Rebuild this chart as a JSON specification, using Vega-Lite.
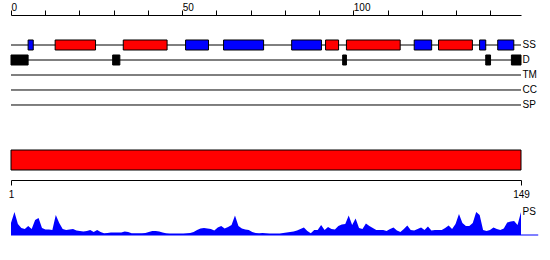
{
  "$schema": "https://vega.github.io/schema/vega-lite/v6.json",
  "padding": {"left": 8, "top": 2, "right": 0, "bottom": 0},
  "config": {
    "view": {"stroke": null},
    "axis": {"grid": false, "domainColor": "black", "tickColor": "black", "labelColor": "black", "labelFont": "Liberation Sans", "labelFontSize": 10, "titleFont": "Liberation Sans", "titleFontSize": 10, "titleFontWeight": "normal", "titleColor": "black"}
  },
  "datasets": {
    "tracks": [{"track": "SS"}, {"track": "D"}, {"track": "TM"}, {"track": "CC"}, {"track": "SP"}],
    "features": [
      {"track": "SS", "type": "strand", "start": 5.0, "end": 6.5},
      {"track": "SS", "type": "helix", "start": 12.9, "end": 24.7},
      {"track": "SS", "type": "helix", "start": 32.8, "end": 45.6},
      {"track": "SS", "type": "strand", "start": 51.0, "end": 57.7},
      {"track": "SS", "type": "strand", "start": 62.1, "end": 73.8},
      {"track": "SS", "type": "strand", "start": 82.0, "end": 90.7},
      {"track": "SS", "type": "helix", "start": 91.9, "end": 95.7},
      {"track": "SS", "type": "helix", "start": 98.0, "end": 113.7},
      {"track": "SS", "type": "strand", "start": 117.8, "end": 122.9},
      {"track": "SS", "type": "helix", "start": 124.9, "end": 134.8},
      {"track": "SS", "type": "strand", "start": 136.9, "end": 138.7},
      {"track": "SS", "type": "strand", "start": 142.2, "end": 146.9},
      {"track": "D", "type": "disorder", "start": 0, "end": 5},
      {"track": "D", "type": "disorder", "start": 29.7, "end": 31.8},
      {"track": "D", "type": "disorder", "start": 96.9, "end": 98},
      {"track": "D", "type": "disorder", "start": 138.7, "end": 140.1},
      {"track": "D", "type": "disorder", "start": 146.2, "end": 149}
    ],
    "protein": [{"start": 1, "end": 149}],
    "ps": [
      {"res": 1, "ps": 0.48}, {"res": 2, "ps": 0.92}, {"res": 3, "ps": 0.44}, {"res": 4, "ps": 0.28}, {"res": 5, "ps": 0.24},
      {"res": 6, "ps": 0.36}, {"res": 7, "ps": 0.24}, {"res": 8, "ps": 0.60}, {"res": 9, "ps": 0.68}, {"res": 10, "ps": 0.28},
      {"res": 11, "ps": 0.22}, {"res": 12, "ps": 0.22}, {"res": 13, "ps": 0.20}, {"res": 14, "ps": 0.80}, {"res": 15, "ps": 0.48},
      {"res": 16, "ps": 0.24}, {"res": 17, "ps": 0.20}, {"res": 18, "ps": 0.22}, {"res": 19, "ps": 0.24}, {"res": 20, "ps": 0.18},
      {"res": 21, "ps": 0.16}, {"res": 22, "ps": 0.14}, {"res": 23, "ps": 0.16}, {"res": 24, "ps": 0.20}, {"res": 25, "ps": 0.12},
      {"res": 26, "ps": 0.20}, {"res": 27, "ps": 0.12}, {"res": 28, "ps": 0.07}, {"res": 29, "ps": 0.08}, {"res": 30, "ps": 0.10},
      {"res": 31, "ps": 0.10}, {"res": 32, "ps": 0.10}, {"res": 33, "ps": 0.10}, {"res": 34, "ps": 0.14}, {"res": 35, "ps": 0.12},
      {"res": 36, "ps": 0.07}, {"res": 37, "ps": 0.07}, {"res": 38, "ps": 0.07}, {"res": 39, "ps": 0.07}, {"res": 40, "ps": 0.08},
      {"res": 41, "ps": 0.12}, {"res": 42, "ps": 0.16}, {"res": 43, "ps": 0.16}, {"res": 44, "ps": 0.14}, {"res": 45, "ps": 0.10},
      {"res": 46, "ps": 0.07}, {"res": 47, "ps": 0.06}, {"res": 48, "ps": 0.06}, {"res": 49, "ps": 0.06}, {"res": 50, "ps": 0.06},
      {"res": 51, "ps": 0.06}, {"res": 52, "ps": 0.07}, {"res": 53, "ps": 0.08}, {"res": 54, "ps": 0.12}, {"res": 55, "ps": 0.20},
      {"res": 56, "ps": 0.26}, {"res": 57, "ps": 0.28}, {"res": 58, "ps": 0.26}, {"res": 59, "ps": 0.24}, {"res": 60, "ps": 0.18},
      {"res": 61, "ps": 0.30}, {"res": 62, "ps": 0.36}, {"res": 63, "ps": 0.26}, {"res": 64, "ps": 0.32}, {"res": 65, "ps": 0.40},
      {"res": 66, "ps": 0.78}, {"res": 67, "ps": 0.36}, {"res": 68, "ps": 0.26}, {"res": 69, "ps": 0.22}, {"res": 70, "ps": 0.20},
      {"res": 71, "ps": 0.12}, {"res": 72, "ps": 0.08}, {"res": 73, "ps": 0.07}, {"res": 74, "ps": 0.08}, {"res": 75, "ps": 0.07},
      {"res": 76, "ps": 0.06}, {"res": 77, "ps": 0.06}, {"res": 78, "ps": 0.06}, {"res": 79, "ps": 0.06}, {"res": 80, "ps": 0.08},
      {"res": 81, "ps": 0.10}, {"res": 82, "ps": 0.12}, {"res": 83, "ps": 0.14}, {"res": 84, "ps": 0.18}, {"res": 85, "ps": 0.24},
      {"res": 86, "ps": 0.30}, {"res": 87, "ps": 0.16}, {"res": 88, "ps": 0.07}, {"res": 89, "ps": 0.20}, {"res": 90, "ps": 0.20},
      {"res": 91, "ps": 0.40}, {"res": 92, "ps": 0.20}, {"res": 93, "ps": 0.32}, {"res": 94, "ps": 0.24}, {"res": 95, "ps": 0.22},
      {"res": 96, "ps": 0.36}, {"res": 97, "ps": 0.42}, {"res": 98, "ps": 0.44}, {"res": 99, "ps": 0.78}, {"res": 100, "ps": 0.40},
      {"res": 101, "ps": 0.66}, {"res": 102, "ps": 0.28}, {"res": 103, "ps": 0.24}, {"res": 104, "ps": 0.46}, {"res": 105, "ps": 0.36},
      {"res": 106, "ps": 0.28}, {"res": 107, "ps": 0.20}, {"res": 108, "ps": 0.20}, {"res": 109, "ps": 0.20}, {"res": 110, "ps": 0.16},
      {"res": 111, "ps": 0.24}, {"res": 112, "ps": 0.30}, {"res": 113, "ps": 0.18}, {"res": 114, "ps": 0.12}, {"res": 115, "ps": 0.24},
      {"res": 116, "ps": 0.38}, {"res": 117, "ps": 0.20}, {"res": 118, "ps": 0.18}, {"res": 119, "ps": 0.24}, {"res": 120, "ps": 0.30},
      {"res": 121, "ps": 0.20}, {"res": 122, "ps": 0.34}, {"res": 123, "ps": 0.18}, {"res": 124, "ps": 0.20}, {"res": 125, "ps": 0.20},
      {"res": 126, "ps": 0.20}, {"res": 127, "ps": 0.28}, {"res": 128, "ps": 0.38}, {"res": 129, "ps": 0.24}, {"res": 130, "ps": 0.44},
      {"res": 131, "ps": 0.84}, {"res": 132, "ps": 0.48}, {"res": 133, "ps": 0.36}, {"res": 134, "ps": 0.36}, {"res": 135, "ps": 0.48},
      {"res": 136, "ps": 0.92}, {"res": 137, "ps": 0.80}, {"res": 138, "ps": 0.20}, {"res": 139, "ps": 0.16}, {"res": 140, "ps": 0.20},
      {"res": 141, "ps": 0.30}, {"res": 142, "ps": 0.24}, {"res": 143, "ps": 0.20}, {"res": 144, "ps": 0.26}, {"res": 145, "ps": 0.50},
      {"res": 146, "ps": 0.54}, {"res": 147, "ps": 0.56}, {"res": 148, "ps": 0.40}, {"res": 149, "ps": 0.92}
    ]
  },
  "spacing": 25,
  "bounds": "flush",
  "resolve": {"scale": {"x": "independent", "y": "independent"}},
  "vconcat": [
    {
      "width": 510,
      "height": 100,
      "layer": [
        {
          "data": {"name": "tracks"},
          "mark": {"type": "rule", "color": "black", "strokeWidth": 1},
          "encoding": {
            "y": {"field": "track", "type": "nominal", "bandPosition": 0.5,
              "scale": {"type": "band", "domain": ["SS", "D", "TM", "CC", "SP"], "paddingInner": 0.3333, "paddingOuter": 1},
              "axis": {"orient": "right", "title": null, "ticks": false, "domain": false, "labelPadding": 1, "labelAlign": "left"}},
            "x": {"datum": 0, "type": "quantitative",
              "scale": {"domain": [0, 149], "nice": false, "zero": false},
              "axis": {"orient": "top", "title": null, "offset": 10, "values": [0, 10, 20, 30, 40, 50, 60, 70, 80, 90, 100, 110, 120, 130, 140],
                "tickCount": 15, "labelExpr": "datum.value % 50 === 0 ? datum.label : ''", "tickSize": 5, "labelAlign": "left",
                "labelBaseline": "alphabetic", "labelPadding": 0, "labelFlush": false, "labelOverlap": false}},
            "x2": {"datum": 149}
          }
        },
        {
          "data": {"name": "features"},
          "mark": {"type": "rect", "stroke": "black", "strokeWidth": 1},
          "encoding": {
            "y": {"field": "track", "type": "nominal",
              "scale": {"type": "band", "domain": ["SS", "D", "TM", "CC", "SP"], "paddingInner": 0.3333, "paddingOuter": 1},
              "axis": {"orient": "right", "title": null, "ticks": false, "domain": false, "labelPadding": 1, "labelAlign": "left"}},
            "x": {"field": "start", "type": "quantitative",
              "scale": {"domain": [0, 149], "nice": false, "zero": false},
              "axis": {"orient": "top", "title": null, "offset": 10, "values": [0, 10, 20, 30, 40, 50, 60, 70, 80, 90, 100, 110, 120, 130, 140],
                "tickCount": 15, "labelExpr": "datum.value % 50 === 0 ? datum.label : ''", "tickSize": 5, "labelAlign": "left",
                "labelBaseline": "alphabetic", "labelPadding": 0, "labelFlush": false, "labelOverlap": false}},
            "x2": {"field": "end"},
            "color": {"field": "type", "type": "nominal",
              "scale": {"domain": ["helix", "strand", "disorder"], "range": ["#ff0000", "#0000ff", "#000000"]},
              "legend": null}
          }
        }
      ]
    },
    {
      "spacing": 40,
      "bounds": "flush",
      "resolve": {"scale": {"x": "independent", "y": "independent"}},
      "vconcat": [
        {
          "width": 510,
          "height": 20,
          "data": {"name": "protein"},
          "mark": {"type": "rect", "fill": "#ff0000", "stroke": "black", "strokeWidth": 1},
          "encoding": {
            "x": {"field": "start", "type": "quantitative", "scale": {"domain": [1, 149], "nice": false, "zero": false},
              "axis": {"orient": "bottom", "title": null, "values": [1, 149], "offset": 10, "tickSize": 5, "labelFlush": false, "labelOverlap": false, "labelPadding": 4}},
            "x2": {"field": "end"}
          }
        },
        {
          "width": 510,
          "height": 25,
          "layer": [
            {
              "data": {"name": "ps"},
              "mark": {"type": "area", "color": "#0000ff", "interpolate": "linear"},
              "encoding": {
                "x": {"field": "res", "type": "quantitative", "scale": {"domain": [1, 149], "nice": false, "zero": false}, "axis": null},
                "y": {"field": "ps", "type": "quantitative", "scale": {"domain": [0, 1], "nice": false},
                  "axis": {"orient": "right", "labels": false, "ticks": false, "domain": false, "title": "PS",
                    "titleAngle": 0, "titleAlign": "left", "titleBaseline": "alphabetic", "titleX": 1, "titleY": 4}}
              }
            },
            {
              "data": {"values": [{}]},
              "mark": {"type": "rule", "color": "#0000ff", "strokeWidth": 1},
              "encoding": {
                "x": {"datum": 1, "type": "quantitative"},
                "x2": {"datum": 154},
                "y": {"datum": 0, "type": "quantitative"}
              }
            }
          ]
        }
      ]
    }
  ]
}
